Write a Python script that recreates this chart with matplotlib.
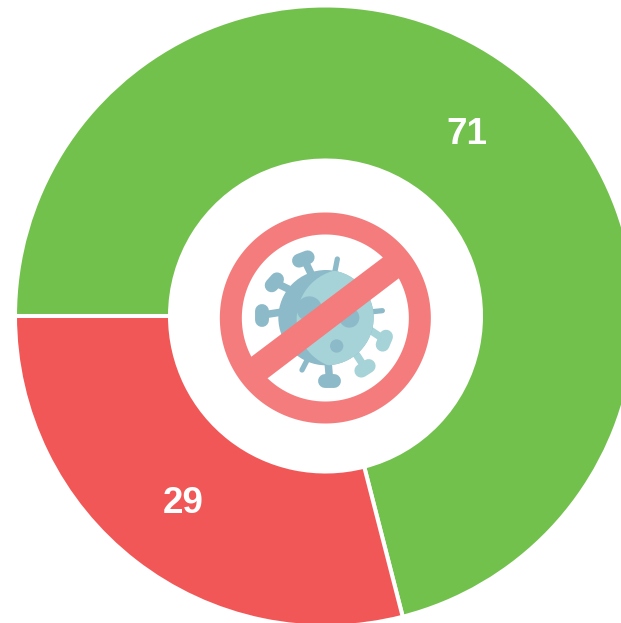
import numpy as np
import matplotlib
matplotlib.use('Agg')
import matplotlib.pyplot as plt
from matplotlib.patches import Circle, Polygon

W, H = 621, 623

# chart values
labels = ['71', '29']
values = [71, 29]
colors = ['#72C14D', '#F25757']

ring_color = '#F57C7C'
virus_dark = '#8DBAC8'
virus_light = '#A6D3D8'

cx, cy = 325.5, H - 316.0
r_out, r_in = 310.5, 155.5


def ic(x, y):
    return 200 + x / 3.0, H - (195 + y / 3.0)


def spike(ax, p0, p1, h0, h1, color, lw=5.4, hw=10.0):
    ax.plot(*zip(ic(*p0), ic(*p1)), color=color, lw=lw, solid_capstyle='round', zorder=4)
    if h0 is not None:
        ax.plot(*zip(ic(*h0), ic(*h1)), color=color, lw=hw, solid_capstyle='round', zorder=4)


fig = plt.figure(figsize=(W / 100, H / 100), dpi=100)
ax = fig.add_axes([0, 0, 1, 1])

wedges, _ = ax.pie(values, colors=colors, startangle=180, counterclock=False,
                   center=(cx, cy), radius=r_out,
                   wedgeprops=dict(width=r_out - r_in, edgecolor='white', linewidth=2.9))

# value labels sit mid ring, in the middle of each slice
for w, lab in zip(wedges, labels):
    ang = np.deg2rad((w.theta1 + w.theta2) / 2)
    rm = (r_out + r_in) / 2
    ax.text(cx - 0.5 + (rm - 2) * np.cos(ang), cy - 3 + rm * np.sin(ang), lab, color='white',
            ha='center', va='center', fontsize=26.5, fontweight='bold',
            family='Liberation Sans', zorder=6)

# virus icon
spike(ax, (335, 240), (314, 196), (297, 197), (323, 187), virus_dark)
spike(ax, (405, 228), (412, 192), None, None, virus_dark, lw=3.8)
spike(ax, (265, 282), (228, 264), (215, 271), (231, 253), virus_dark)
spike(ax, (240, 352), (188, 360), (186, 348), (186, 375), virus_dark)
spike(ax, (518, 350), (547, 347), None, None, virus_dark, lw=3.8)
spike(ax, (510, 405), (552, 433), (558, 425), (548, 449), virus_light)
spike(ax, (470, 480), (495, 518), (484, 527), (506, 513), virus_light)
spike(ax, (385, 510), (389, 558), (376, 559), (402, 559), virus_dark)
spike(ax, (320, 498), (306, 525), None, None, virus_dark, lw=3.8)

body = Circle(ic(378, 368), 143 / 3, color=virus_dark, lw=0, zorder=5)
ax.add_patch(body)
light = Circle(ic(440, 372), 150 / 3, color=virus_light, lw=0, zorder=5.1)
ax.add_patch(light)
light.set_clip_path(body)
for sx, sy, sr in [(328, 342, 38), (448, 368, 30), (410, 453, 20)]:
    spot = Circle(ic(sx, sy), sr / 3, color=virus_dark, lw=0, zorder=5.2)
    ax.add_patch(spot)
    spot.set_clip_path(body)

# no-entry ring and bar, bar ends run on under the ring
ring_c = ic(376, 369)
theta = np.linspace(0, 2 * np.pi, 361)
ring_x = np.r_[ring_c[0] + 105.5 * np.cos(theta), ring_c[0] + 83.5 * np.cos(theta[::-1])]
ring_y = np.r_[ring_c[1] + 105.5 * np.sin(theta), ring_c[1] + 83.5 * np.sin(theta[::-1])]
ax.add_patch(Polygon(np.c_[ring_x, ring_y], closed=True, color=ring_color, lw=0, zorder=7))
ax.add_patch(Polygon([ic(125, 507), ic(577, 166), ic(624, 229), ic(175, 571)],
                     closed=True, color=ring_color, lw=0, zorder=7))

ax.set_xlim(0, W)
ax.set_ylim(0, H)
ax.set_aspect('equal')
ax.axis('off')

plt.savefig('out.png', dpi=100)
